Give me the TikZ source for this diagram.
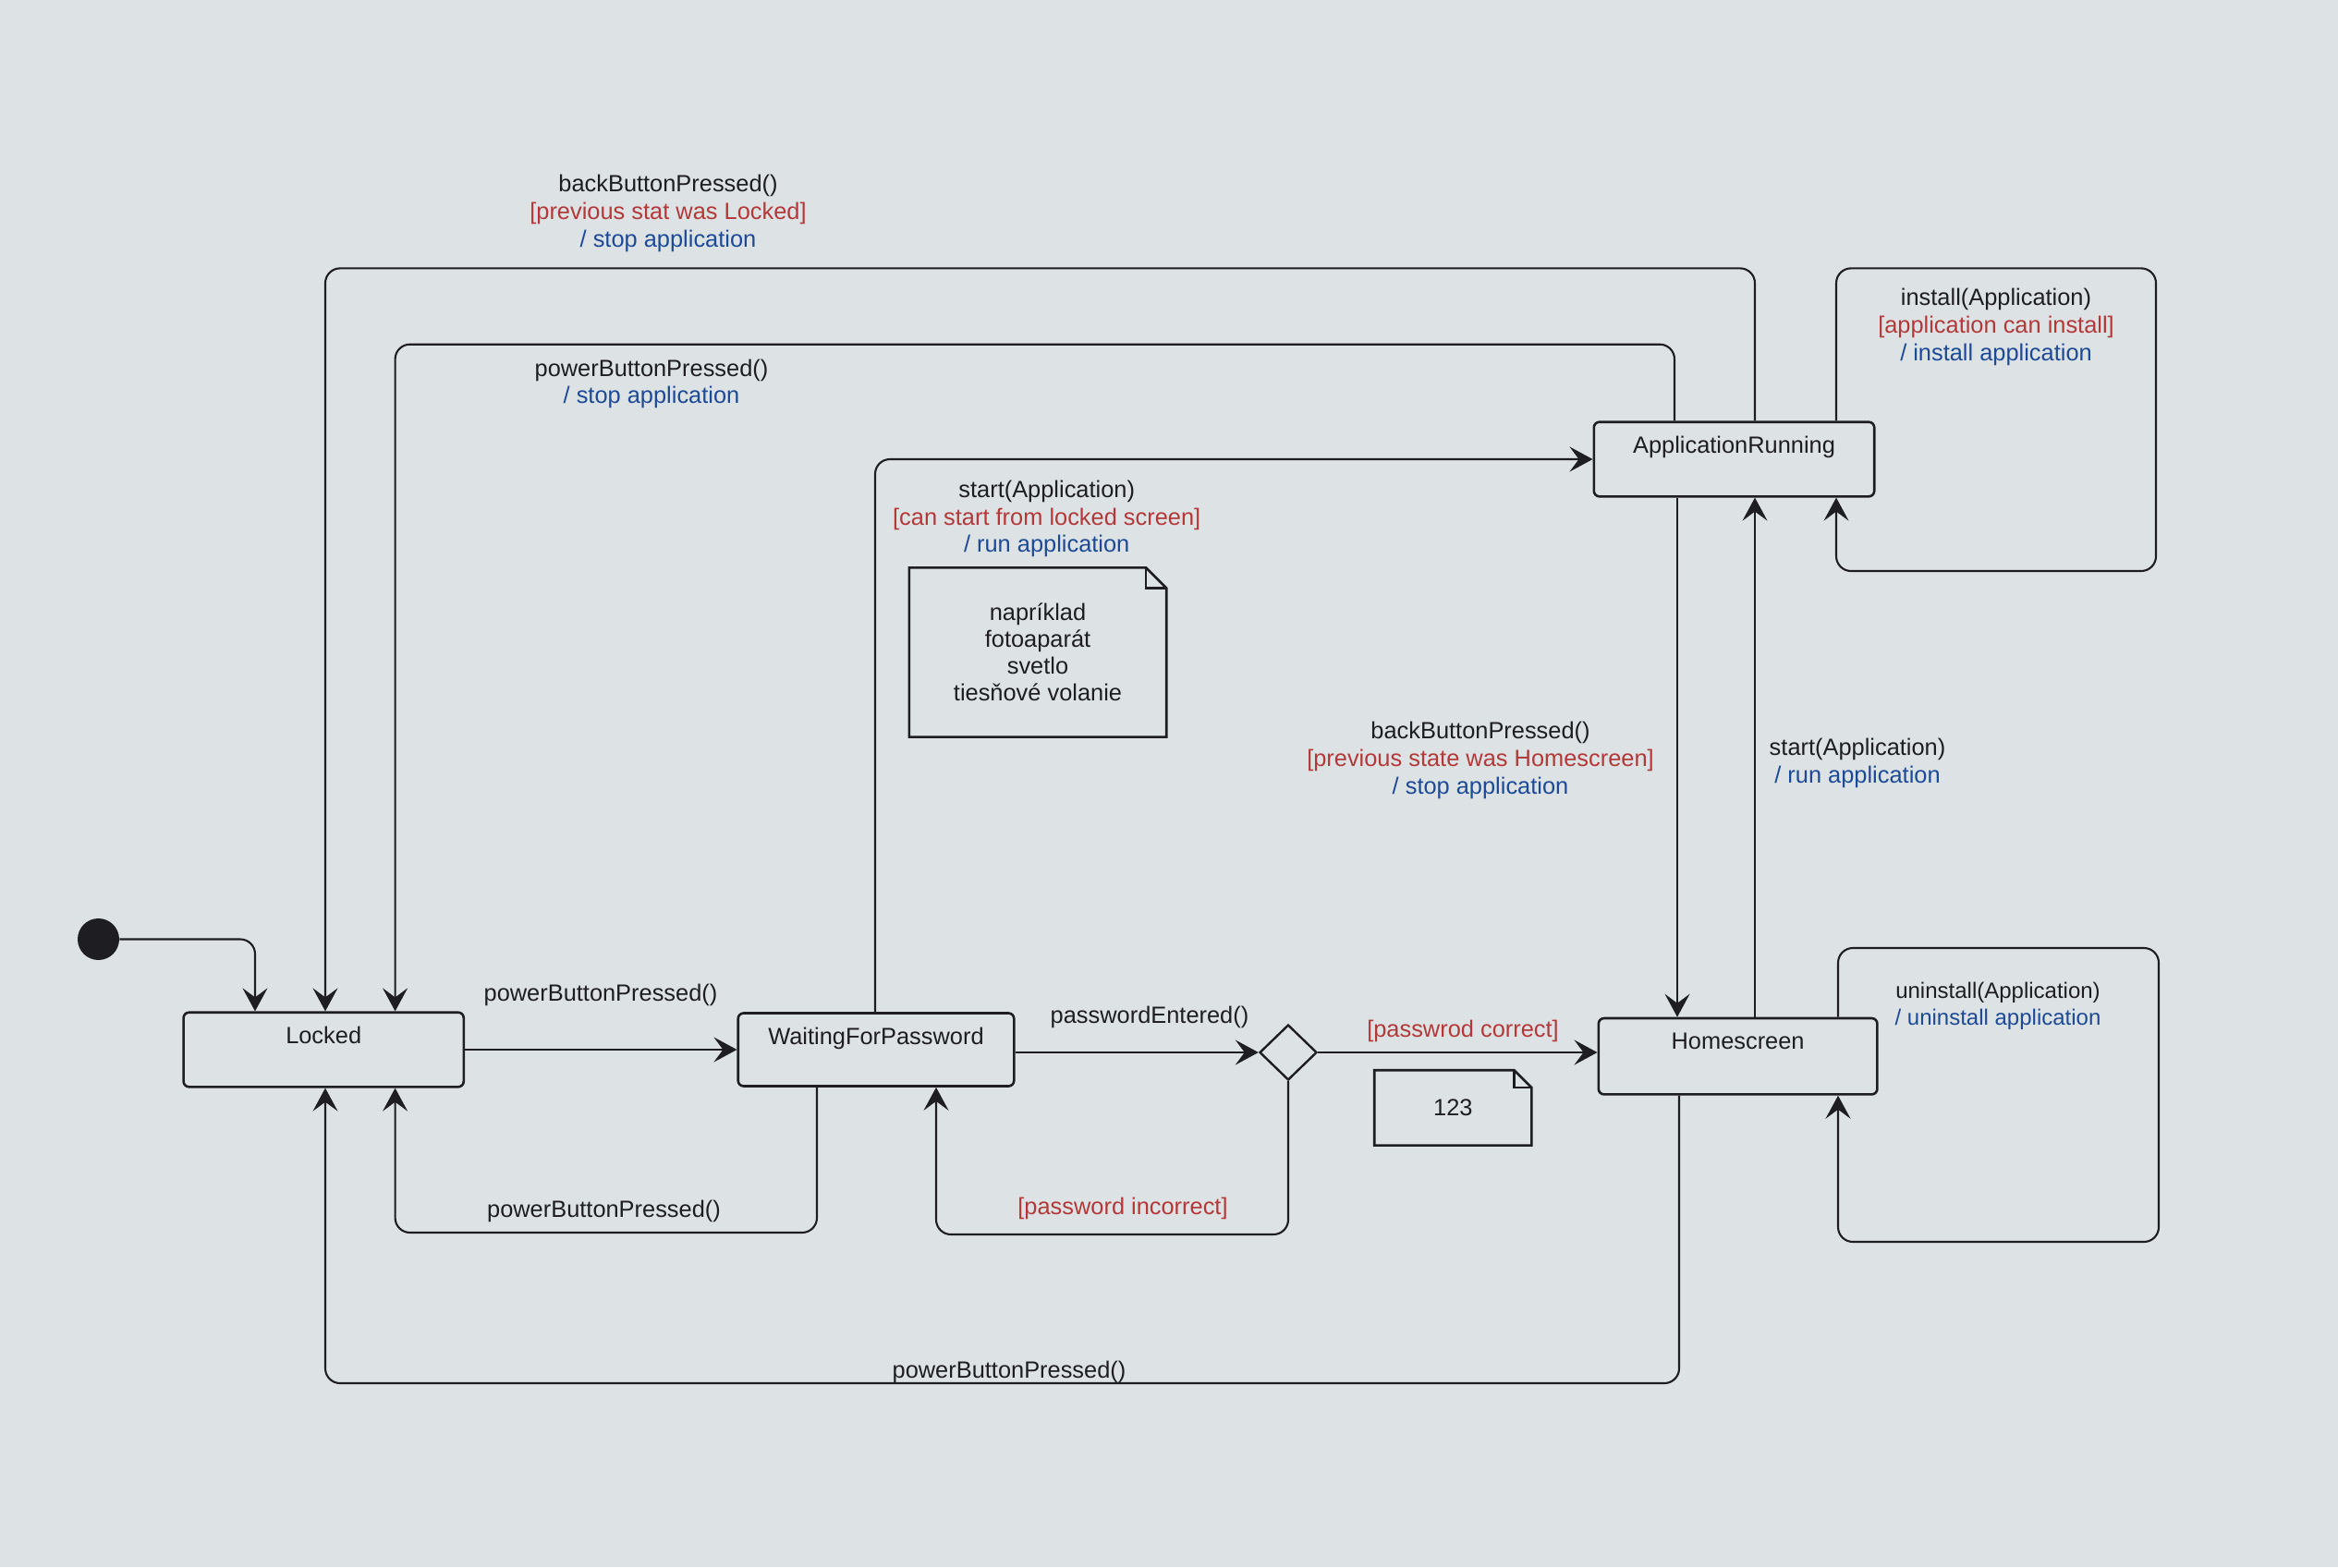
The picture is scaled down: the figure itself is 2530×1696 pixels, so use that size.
\documentclass[tikz,border=0pt]{standalone}
\usepackage{fontspec}
\setmainfont{Liberation Sans}
\usetikzlibrary{shapes.geometric,arrows.meta,calc}
\definecolor{bg}{RGB}{221,226,229}
\definecolor{ink}{RGB}{30,30,34}
\definecolor{gred}{RGB}{180,56,56}
\definecolor{gblue}{RGB}{28,74,150}
\begin{document}
\begin{tikzpicture}[x=0.5pt,y=-0.5pt,
  state/.style={draw=ink, line width=1.3pt, rounded corners=3pt, inner sep=0pt, fill=bg},
  stlabel/.style={anchor=base, yshift=-17.5pt, inner sep=0pt, font=\fontsize{12.7}{14.9}\selectfont, text=ink},
  conn/.style={draw=ink, line width=1.05pt, rounded corners=8pt, -{Stealth[length=12.5pt,width=13.5pt,inset=5pt]}},
  lbl/.style={align=center, font=\fontsize{12.7}{14.9}\selectfont, text=ink, inner sep=0pt},
  notebox/.style={inner sep=0pt, align=center, font=\fontsize{12.7}{14.5}\selectfont, text=ink},
  noteline/.style={draw=ink, line width=1.3pt, line join=miter}
]
\fill[bg] (0,0) rectangle (2530,1696);
\useasboundingbox (0,0) rectangle (2530,1696);

% states
\node[state, minimum width=151.6pt, minimum height=40.3pt,
  label={[stlabel]north:Locked}] (locked) at (350.2,1136) {};
\node[state, minimum width=149.3pt, minimum height=39.5pt,
  label={[stlabel]north:WaitingForPassword}] (wfp) at (948,1136) {};
\node[state, minimum width=150.8pt, minimum height=41.2pt,
  label={[stlabel]north:Homescreen}] (home) at (1880.6,1143.2) {};
\node[state, minimum width=151.7pt, minimum height=40.3pt,
  label={[stlabel]north:ApplicationRunning}] (ar) at (1876.5,497) {};
\node[draw=ink, line width=1.2pt, diamond, inner sep=0pt, minimum width=31pt, minimum height=30pt, fill=bg] (dia) at (1394,1139) {};
\node[circle, fill=ink, inner sep=0pt, minimum size=22.5pt] (init) at (106.5,1016.5) {};

% notes
\node[notebox, minimum width=138.8pt, minimum height=91.2pt] (n1) at (1123,706) {napríklad\\fotoaparát\\svetlo\\tiesňové volanie};
\draw[noteline] (n1.north west) -- ([xshift=-11pt]n1.north east) -- ([yshift=-11pt]n1.north east) -- (n1.south east) -- (n1.south west) -- cycle;
\draw[noteline, line width=1.1pt] ([xshift=-11pt]n1.north east) -- ([xshift=-11pt,yshift=-11pt]n1.north east) -- ([yshift=-11pt]n1.north east);
\node[notebox, minimum width=84.7pt, minimum height=40.3pt] (n2) at (1572.3,1198.9) {123};
\draw[noteline] (n2.north west) -- ([xshift=-9.5pt]n2.north east) -- ([yshift=-9.5pt]n2.north east) -- (n2.south east) -- (n2.south west) -- cycle;
\draw[noteline, line width=1.1pt] ([xshift=-9.5pt]n2.north east) -- ([xshift=-9.5pt,yshift=-9.5pt]n2.north east) -- ([yshift=-9.5pt]n2.north east);

% connectors
\draw[conn] (init.east) -| (276,0 |- locked.north);
\draw[conn] (1899,0 |- ar.north) -- (1899,290.4) -- (352,290.4) -- (352,0 |- locked.north);
\draw[conn] (1812,0 |- ar.north) -- (1812,372.7) -- (427.6,372.7) -- (427.6,0 |- locked.north);
\draw[conn] (locked.east) -- (wfp.west);
\draw[conn] (884,0 |- wfp.south) -- (884,1334) -- (427.6,1334) -- (427.6,0 |- locked.south);
\draw[conn] (wfp.east |- dia.west) -- (dia.west);
\draw[conn] (dia.south) -- (1394,1336) -- (1013,1336) -- (1013,0 |- wfp.south);
\draw[conn] (dia.east) -- (dia.east -| home.west);
\draw[conn] (947,0 |- wfp.north) |- (ar.west);
\draw[conn] (1815,0 |- ar.south) -- (1815,0 |- home.north);
\draw[conn] (1899,0 |- home.north) -- (1899,0 |- ar.south);
\draw[conn] (1817,0 |- home.south) -- (1817,1497) -- (352,1497) -- (352,0 |- locked.south);
\draw[conn] (1987,0 |- ar.north) -- (1987,290.4) -- (2333,290.4) -- (2333,618) -- (1987,618) -- (1987,0 |- ar.south);
\draw[conn] (1989,0 |- home.north) -- (1989,1026) -- (2336,1026) -- (2336,1344) -- (1989,1344) -- (1989,0 |- home.south);

% labels
\node[lbl] (l1) at (723,231) {backButtonPressed()\\{\color{gred}[previous stat was Locked]}\\{\color{gblue}/ stop application}};
\node[lbl] (l2) at (705,415.5) {powerButtonPressed()\\{\color{gblue}/ stop application}};
\node[lbl] (l3) at (650,1076.5) {powerButtonPressed()};
\node[lbl] (l4) at (653.5,1310.5) {powerButtonPressed()};
\node[lbl] (l5) at (1244,1100.5) {passwordEntered()};
\node[lbl, text=gred] (l6) at (1215,1307.5) {{[password incorrect]}};
\node[lbl, text=gred] (l7) at (1583,1115.5) {{[passwrod correct]}};
\node[lbl] (l8) at (1132.7,561.5) {start(Application)\\{\color{gred}[can start from locked screen]}\\{\color{gblue}/ run application}};
\node[lbl] (l9) at (1602,823) {backButtonPressed()\\{\color{gred}[previous state was Homescreen]}\\{\color{gblue}/ stop application}};
\node[lbl] (l10) at (2010,826) {start(Application)\\{\color{gblue}/ run application}};
\node[lbl] (l11) at (1092,1484.5) {powerButtonPressed()};
\node[lbl] (l12) at (2160,354) {install(Application)\\{\color{gred}[application can install]}\\{\color{gblue}/ install application}};
\node[lbl, font=\fontsize{12}{14.5}\selectfont] (l13) at (2162,1089) {uninstall(Application)\\{\color{gblue}/ uninstall application}};
\end{tikzpicture}
\end{document}
